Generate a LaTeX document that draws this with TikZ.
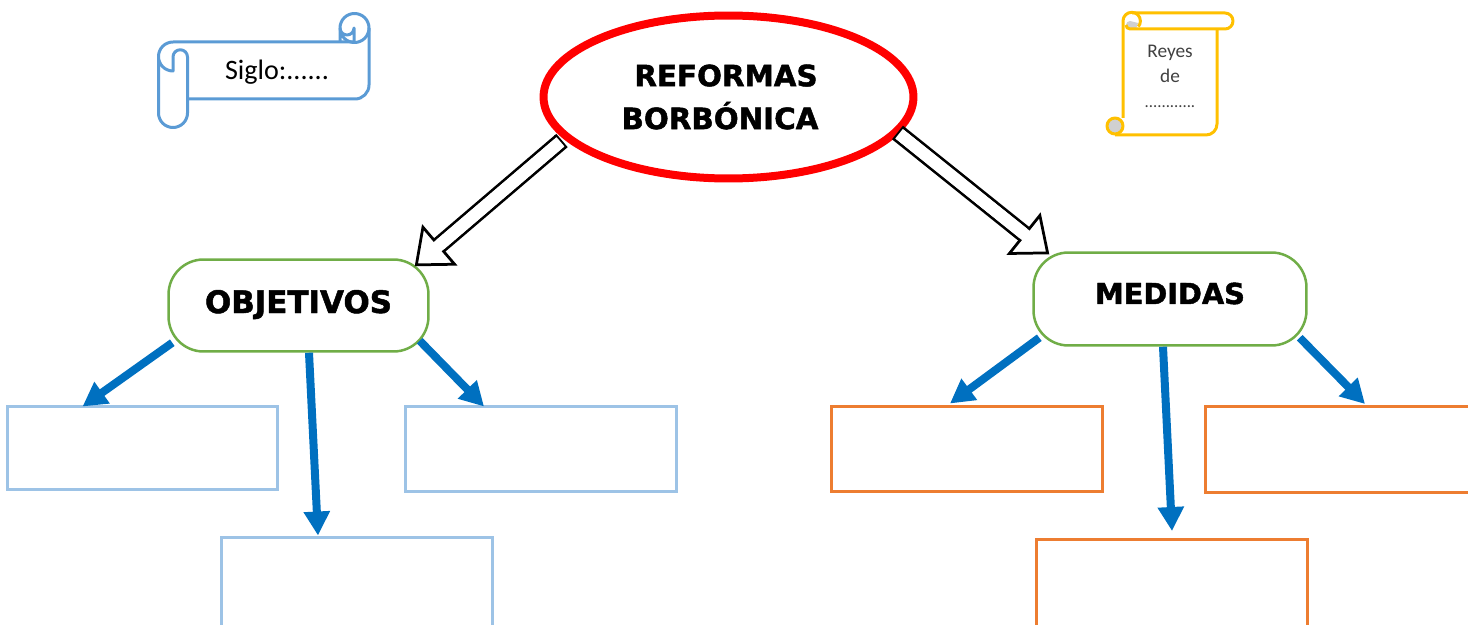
\documentclass[tikz,border=0pt]{standalone}
\usepackage{fontspec}
\setmainfont{Carlito}
\newfontfamily\titlefont[BoldFeatures={FakeBold=1.6}]{DejaVu Sans}
\usetikzlibrary{shapes.geometric,arrows.meta,positioning,calc}
\definecolor{reformared}{RGB}{255,0,0}
\definecolor{scrollblue}{RGB}{91,155,213}
\definecolor{scrollgold}{RGB}{255,192,0}
\definecolor{curlgray}{RGB}{208,208,208}
\definecolor{rootgreen}{RGB}{112,173,71}
\definecolor{arrowblue}{RGB}{0,112,192}
\definecolor{boxblue}{RGB}{157,195,230}
\definecolor{boxorange}{RGB}{237,125,49}

\begin{document}
\begin{tikzpicture}[
    x=0.02cm, y=-0.02cm,
    rootnode/.style={ellipse, draw=reformared, line width=0.16cm, minimum width=7.4cm, minimum height=3.26cm, inner sep=0pt, align=center, font=\titlefont\bfseries\fontsize{16.7}{24.4}\selectfont},
    branch/.style={rectangle, draw=rootgreen, line width=0.05cm, rounded corners=0.7cm, inner sep=0pt, text height=0.44cm},
    answerblue/.style={rectangle, draw=boxblue, line width=0.06cm, inner sep=0pt},
    answerorange/.style={rectangle, draw=boxorange, line width=0.06cm, inner sep=0pt},
    hollow/.style={double=white, draw=black, line width=0.055cm, double distance=0.24cm, {Bar[width=0.35cm]}-{Triangle[length=0.66cm, width=1.08cm, fill=white, line width=0.055cm]}},
    hollowfill/.style={white, line width=0.24cm, shorten >=0.58cm, shorten <=0.04cm},
    pointer/.style={draw=arrowblue, line width=0.16cm, -{Triangle[length=0.48cm, width=0.5cm]}},
    scrollline/.style={line width=0.06cm, line join=round},
    scrolltext/.style={inner sep=0pt, align=center}
]
    \useasboundingbox (0,0) rectangle (1468,625);

    % Top ellipse
    \node[rootnode] (reformas) at (728.5,97) {REFORMAS\hspace*{0.1cm}\\BORB\'ONICA\hspace*{0.34cm}};

    % Second level
    \node[branch, minimum width=5.2cm, minimum height=1.84cm, text depth=0.14cm, font=\titlefont\bfseries\fontsize{17.6}{21}\selectfont] (objetivos) at (298.5,305.5) {OBJETIVOS};
    \node[branch, minimum width=5.46cm, minimum height=1.86cm, text depth=0.24cm, font=\titlefont\bfseries\fontsize{16.4}{21}\selectfont] (medidas) at (1170,299) {MEDIDAS};

    % Empty boxes
    \node[answerblue, minimum width=5.42cm, minimum height=1.68cm] (objleft) at (142.5,448) {};
    \node[answerblue, minimum width=5.42cm, minimum height=1.72cm] (objright) at (541,449) {};
    \node[answerblue, minimum width=5.42cm, minimum height=1.9cm] (objdown) at (357,584.5) {};
    \node[answerorange, minimum width=5.42cm, minimum height=1.72cm] (medleft) at (967,449) {};
    \node[answerorange, minimum width=5.42cm, minimum height=1.72cm] (medright) at (1341,449.5) {};
    \node[answerorange, minimum width=5.42cm, minimum height=1.86cm] (meddown) at (1172,586) {};

    % Hollow arrows
    \draw[hollow] ([shift={(-166.5,43.5)}]reformas.center) -- ([shift={(-15,8)}]objetivos.north east);
    \draw[hollowfill] ([shift={(-166.5,43.5)}]reformas.center) -- ([shift={(-15,8)}]objetivos.north east);
    \draw[hollow] ([shift={(169,35.5)}]reformas.center) -- ([shift={(17,3)}]medidas.north west);
    \draw[hollowfill] ([shift={(169,35.5)}]reformas.center) -- ([shift={(17,3)}]medidas.north west);

    % Blue arrows
    \draw[pointer] ([shift={(5,-10)}]objetivos.south west) -- ([shift={(77,2)}]objleft.north west);
    \draw[pointer] ([shift={(10.5,0)}]objetivos.south) -- ([shift={(-39,0)}]objdown.north);
    \draw[pointer] ([shift={(-10,-12)}]objetivos.south east) -- ([shift={(80,2)}]objright.north west);
    \draw[pointer] ([shift={(7,-9)}]medidas.south west) -- ([shift={(-17,-1)}]medleft.north);
    \draw[pointer] ([shift={(-7,0)}]medidas.south) -- ([shift={(0,-7)}]meddown.north);
    \draw[pointer] ([shift={(-8,-9)}]medidas.south east) -- ([shift={(161,-1)}]medright.north west);

    % Century scroll
    \draw[scrollblue, scrollline] (173,42) -- (354.5,42) (369,28) -- (369,85) arc[start angle=0, end angle=90, radius=14] -- (187.5,99);
    \draw[scrollblue, scrollline] (340,42) -- (340,28) arc[start angle=180, end angle=-180, radius=14.5];
    \draw[scrollblue, scrollline] (340,28) arc[start angle=180, end angle=0, radius=7] -- (354,42);
    \draw[scrollblue, scrollline] (173,42) arc[start angle=-90, end angle=-180, radius=14.5] -- (158.5,113) arc[start angle=180, end angle=0, radius=14.5] -- (187.5,57) arc[start angle=0, end angle=-180, radius=7.25] -- (173,71) arc[start angle=90, end angle=180, radius=14.5];
    \node[scrolltext, font=\fontsize{16}{19}\selectfont] (siglo) at (277,72) {Siglo:......};

    % Kings scroll
    \fill[curlgray] (1130,29) arc[start angle=90, end angle=270, radius=4] -- (1138,23) -- (1136,29) -- cycle;
    \draw[scrollgold, scrollline] (1126,25) arc[start angle=180, end angle=90, radius=4] -- (1225,29) arc[start angle=90, end angle=-90, radius=8] -- (1132,13);
    \draw[scrollgold, scrollline] (1123,118) -- (1123,21) arc[start angle=180, end angle=400, radius=8.7];
    \draw[scrollgold, scrollline] (1217,29) -- (1217,124) arc[start angle=0, end angle=90, radius=11] -- (1115,135);
    \draw[scrollgold, scrollline, fill=curlgray] (1115,126) circle[radius=8];
    \node[scrolltext, text=black!75, font=\fontsize{11}{14.2}\selectfont] (reyes) at (1170,76.5) {Reyes\\de\\{\fontsize{9.5}{14.2}\selectfont ............}};
\end{tikzpicture}
\end{document}
